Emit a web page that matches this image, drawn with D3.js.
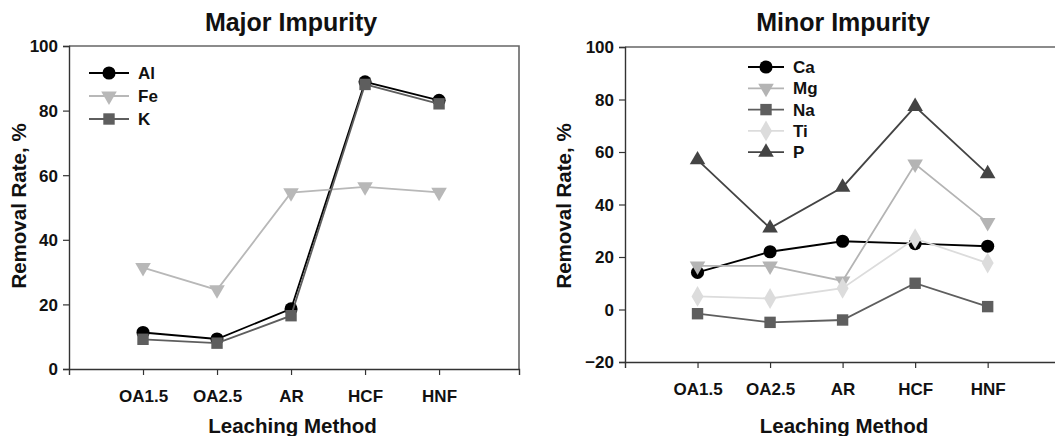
<!DOCTYPE html>
<html>
<head>
<meta charset="utf-8">
<script src="https://cdn.jsdelivr.net/npm/d3@7"></script>
<style>
  body { margin: 0; background: #fff; }
  svg { display: block; font-family: "Liberation Sans", Arial, sans-serif; font-weight: bold; }
</style>
</head>
<body>
<svg id="chart" width="1055" height="436"></svg>
<script>
// categories shared by both panels
const methods = ['OA1.5', 'OA2.5', 'AR', 'HCF', 'HNF'];

// major impurity removal rate, %
const alValues = [11.3, 9.3, 18.6, 88.9, 83.2];
const feValues = [31.4, 24.5, 54.6, 56.4, 54.7];
const kValues = [9.2, 8.0, 16.5, 88.1, 82.1];

// minor impurity removal rate, %
const caValues = [14.1, 22.0, 26.0, 25.1, 24.1];
const mgValues = [16.6, 16.6, 10.9, 55.4, 33.1];
const naValues = [-1.6, -4.9, -4.0, 10.0, 1.1];
const tiValues = [5.0, 4.2, 8.1, 27.0, 17.7];
const pValues = [57.0, 31.0, 46.6, 77.3, 51.7];

const majorTicks = [0, 20, 40, 60, 80, 100];
const minorTicks = [-20, 0, 20, 40, 60, 80, 100];

const svg = d3.select('#chart');

const shapes = {
  circle: d3.symbol().type(d3.symbolCircle).size(135),
  down: d3.symbol().type(d3.symbolTriangle).size(105),
  up: d3.symbol().type(d3.symbolTriangle).size(105),
  square: d3.symbol().type(d3.symbolSquare).size(130),
  diamond: d3.symbol().type(d3.symbolDiamond).size(125)
};

function drawPanel(opt) {
  const g = svg.append('g');
  const x = d3.scaleLinear().domain([0, 6.08]).range([opt.left, opt.left + opt.width]);
  const y = d3.scaleLinear().domain(opt.domain).range([opt.bottom, opt.top]);

  // frame (top and right)
  g.append('path')
    .attr('d', `M${opt.left},${opt.top}H${x(6.08)}V${opt.bottom}`)
    .attr('fill', 'none').attr('stroke', '#666').attr('stroke-width', 1.6);

  // y axis
  const yAxis = g.append('g').attr('transform', `translate(${opt.left},0)`)
    .call(d3.axisLeft(y).tickValues(opt.ticks).tickSize(6).tickPadding(5));
  // x axis
  const xAxis = g.append('g').attr('transform', `translate(0,${opt.bottom})`)
    .call(d3.axisBottom(x).tickValues([1, 2, 3, 4, 5])
      .tickFormat(i => methods[i - 1]).tickSize(6).tickPadding(15));
  [yAxis, xAxis].forEach(a => {
    a.select('.domain').attr('stroke', '#333').attr('stroke-width', 1.4);
    a.selectAll('.tick line').attr('stroke', '#333').attr('stroke-width', 1.2);
    a.selectAll('text').attr('font-size', 17).attr('font-weight', 'bold')
      .attr('fill', '#111').attr('font-family', '"Liberation Sans", Arial, sans-serif');
  });
  yAxis.selectAll('text').attr('dy', '0.35em');

  // titles
  g.append('text').attr('x', opt.titleX).attr('y', 31)
    .attr('text-anchor', 'middle').attr('font-size', 25).attr('fill', '#111')
    .text(opt.title);
  g.append('text').attr('x', opt.left + 3.02 * (opt.width / 6.08)).attr('y', 433)
    .attr('text-anchor', 'middle').attr('font-size', 20.5).attr('fill', '#111')
    .text('Leaching Method');
  g.append('text')
    .attr('transform', `translate(${opt.yLabelX},206) rotate(-90)`)
    .attr('text-anchor', 'middle').attr('font-size', 20.5).attr('fill', '#111')
    .text('Removal Rate, %');

  const line = d3.line().x((d, i) => x(i + 1)).y(d => y(d));

  opt.series.forEach(s => {
    g.append('path').datum(s.values)
      .attr('d', line).attr('fill', 'none')
      .attr('stroke', s.color).attr('stroke-width', 1.8);
    g.selectAll(null).data(s.values).enter().append('path')
      .attr('d', shapes[s.shape])
      .attr('transform', (d, i) => `translate(${x(i + 1)},${y(d)})` + (s.shape === 'down' ? ' rotate(180)' : ''))
      .attr('fill', s.color);
  });

  // legend
  opt.series.forEach((s, i) => {
    const ly = opt.legY + i * opt.legStep;
    g.append('line').attr('x1', opt.legX).attr('x2', opt.legX + opt.legLen)
      .attr('y1', ly).attr('y2', ly).attr('stroke', s.color).attr('stroke-width', 1.8);
    g.append('path').attr('d', shapes[s.shape])
      .attr('transform', `translate(${opt.legX + opt.legLen / 2},${ly})` + (s.shape === 'down' ? ' rotate(180)' : ''))
      .attr('fill', s.color);
    g.append('text').attr('x', opt.legX + opt.legLen + 9).attr('y', ly)
      .attr('dy', '0.36em').attr('font-size', 17).attr('fill', '#111')
      .text(s.name);
  });
}

drawPanel({
  title: 'Major Impurity', titleX: 291,
  left: 69, width: 450, top: 46, bottom: 369,
  domain: [0, 100], ticks: majorTicks, yLabelX: 26,
  legX: 89, legY: 73, legStep: 23, legLen: 40,
  series: [
    { name: 'Al', values: alValues, color: '#000', shape: 'circle' },
    { name: 'Fe', values: feValues, color: '#b8b8b8', shape: 'down' },
    { name: 'K', values: kValues, color: '#5e5e5e', shape: 'square' }
  ]
});

drawPanel({
  title: 'Minor Impurity', titleX: 843,
  left: 625, width: 441, top: 47, bottom: 362,
  domain: [-20, 100], ticks: minorTicks, yLabelX: 571,
  legX: 748, legY: 67, legStep: 21.3, legLen: 36,
  series: [
    { name: 'Ca', values: caValues, color: '#000', shape: 'circle' },
    { name: 'Mg', values: mgValues, color: '#b4b4b4', shape: 'down' },
    { name: 'Na', values: naValues, color: '#5e5e5e', shape: 'square' },
    { name: 'Ti', values: tiValues, color: '#dcdcdc', shape: 'diamond' },
    { name: 'P', values: pValues, color: '#444', shape: 'up' }
  ]
});
</script>
</body>
</html>
